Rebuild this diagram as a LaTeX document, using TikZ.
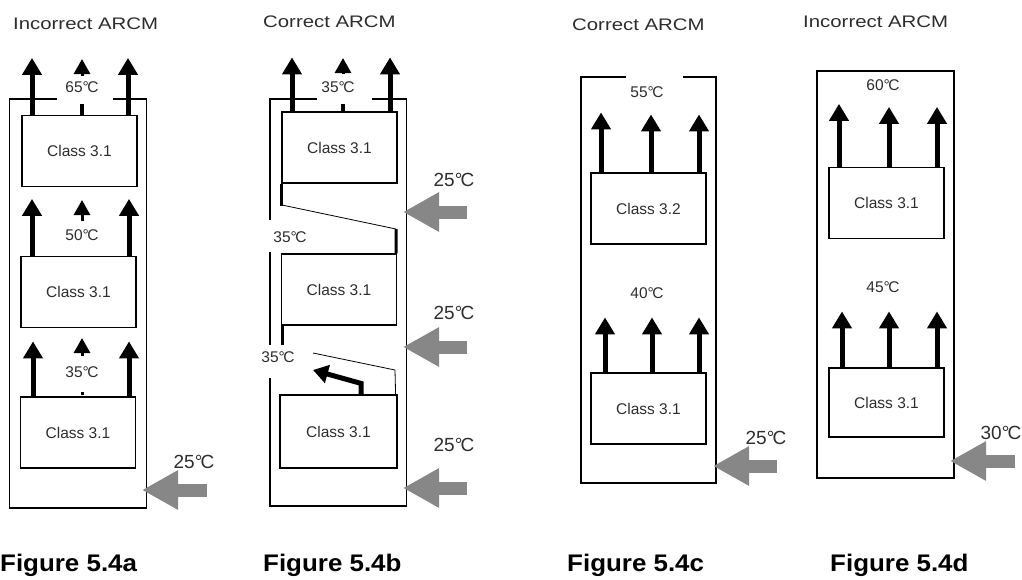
\documentclass[tikz,border=0pt]{standalone}
\usepackage{fontspec}
\setmainfont{Liberation Sans}
\newfontfamily\widefont[FakeStretch=1.22]{Liberation Sans}
\newfontfamily\capfont[FakeStretch=1.08]{Liberation Sans}
\usetikzlibrary{arrows.meta, positioning, calc}
\definecolor{inletgray}{RGB}{135,135,135}
\definecolor{txtgray}{RGB}{45,45,45}
\newcommand{\dgc}{°\kern-0.09em C}

\tikzset{
    wall/.style={line width=1.2pt},
    unitbox/.style={draw, line width=1.2pt, minimum width=115pt, minimum height=71pt,
        inner sep=0pt, text=txtgray, font=\fontsize{15.5}{15.5}\selectfont},
    flow/.style={line width=5pt, -{Triangle[length=17pt,width=19pt]}},
    smallhead/.style={line width=3pt, -{Triangle[length=15pt,width=16pt]}},
    inflow/.style={inletgray, line width=13pt, -{Triangle[length=36pt,width=37pt]}},
    temp/.style={text=txtgray, font=\fontsize{15.5}{15.5}\selectfont, inner sep=0pt},
    sidetemp/.style={text=txtgray, font=\fontsize{19}{19}\selectfont, inner sep=0pt},
    title/.style={anchor=west, inner sep=0pt, text=txtgray, font=\widefont\fontsize{16.7}{16.7}\selectfont},
    caption/.style={anchor=west, inner sep=0pt, font=\capfont\bfseries\fontsize{24}{24}\selectfont}
}

\begin{document}
\begin{tikzpicture}[x=1pt, y=-1pt]
    \useasboundingbox (0,0) rectangle (1022,579);

    % Figure 5.4a
    \node[title] (ta) at (13,24) {Incorrect ARCM};
    \draw[wall] (57,99) -- (9.5,99) -- (9.5,508) -- (146.5,508) -- (146.5,99) -- (113,99);
    \node[unitbox] (a1) at (79.5,151) {Class 3.1};
    \node[unitbox] (a2) at (78.5,292) {Class 3.1};
    \node[unitbox] (a3) at (78,432.5) {Class 3.1};
    \draw[flow] ([xshift=-47.5pt]a1.north) -- ++(0,-57);
    \draw[flow] ([xshift=48.5pt]a1.north) -- ++(0,-57);
    \draw[smallhead] (82,76) -- (82,59);
    \draw[line width=4pt] ([xshift=2.5pt]a1.north) -- ++(0,-11);
    \node[temp] (ta1) at (82,87) {65\dgc};
    \draw[flow] ([xshift=-46.5pt]a2.north) -- ++(0,-57);
    \draw[flow] ([xshift=50.5pt]a2.north) -- ++(0,-57);
    \draw[smallhead] (82,221) -- (82,200);
    \node[temp] (ta2) at (82,235) {50\dgc};
    \draw[flow] ([xshift=-45pt]a3.north) -- ++(0,-55);
    \draw[flow] ([xshift=51pt]a3.north) -- ++(0,-55);
    \draw[smallhead] (82,356) -- (82,338);
    \node[temp] (ta3) at (82,372) {35\dgc};
    \fill (80.5,391.5) rectangle (83.5,394.5);
    \node[sidetemp] (sa) at (194,462) {25\dgc};
    \coordinate (ia) at (142,490);
    \draw[inflow] (207,490) -- (ia);
    \node[caption] (ca) at (0,565) {Figure 5.4a};

    % Figure 5.4b
    \node[title] (tb) at (263,22) {Correct ARCM};
    \draw[wall] (317,99) -- (270,99) -- (270,220);
    \draw[wall] (270,252) -- (270,345);
    \draw[wall] (270,378) -- (270,506) -- (406.5,506) -- (406.5,99) -- (372,99);
    \node[unitbox] (b1) at (339.5,147.5) {Class 3.1};
    \node[unitbox] (b2) at (339,289.5) {Class 3.1};
    \node[unitbox, minimum width=117pt, minimum height=73pt] (b3) at (338.5,431.5) {Class 3.1};
    \draw[line width=3pt] ([xshift=0.5pt]b1.south west) -- ++(0,22);
    \draw[line width=0.8pt] (282,205) -- (396,229);
    \draw[line width=3pt] (396,229) -- ([xshift=-1pt]b2.north east);
    \draw[line width=3pt] ([xshift=2pt]b2.south west) -- ++(0,19);
    \draw[line width=0.8pt] (313,353) -- (395,370);
    \draw[line width=0.8pt] (395,370) -- ([xshift=-2pt]b3.north east);
    \draw[flow] ([xshift=-47.5pt]b1.north) -- ++(0,-54);
    \draw[flow] ([xshift=50.5pt]b1.north) -- ++(0,-54);
    \draw[smallhead] (343,74) -- (343,58);
    \draw[line width=4pt] ([xshift=3.5pt]b1.north) -- ++(0,-7);
    \node[temp] (tb1) at (338,87) {35\dgc};
    \node[temp] (tb2) at (290,237) {35\dgc};
    \node[temp] (tb3) at (278,357) {35\dgc};
    \draw[line width=5pt, -{Triangle[length=15pt,width=18pt]}]
        ([xshift=22.5pt]b3.north) -- ++(0,-11) -- (313,370);
    \node[sidetemp] (sb1) at (454,180) {25\dgc};
    \node[sidetemp] (sb2) at (454,313) {25\dgc};
    \node[sidetemp] (sb3) at (454,445) {25\dgc};
    \coordinate (ib1) at (403,212);
    \coordinate (ib2) at (403,347);
    \coordinate (ib3) at (403,488);
    \foreach \c in {ib1,ib2,ib3}
        \draw[inflow] ($(\c)+(64,0)$) -- (\c);
    \node[caption] (cb) at (263,565) {Figure 5.4b};

    % Figure 5.4c
    \node[title] (tc) at (572,25) {Correct ARCM};
    \draw[wall] (626,77) -- (581,77) -- (581,483) -- (716,483) -- (716,77) -- (683,77);
    \node[unitbox] (c1) at (648.5,208.5) {Class 3.2};
    \node[unitbox] (c2) at (648.5,408.5) {Class 3.1};
    \foreach \dx/\len in {-47.5/60, 2.5/58, 50.5/58}
        \draw[flow] ([xshift=\dx pt]c1.north) -- ++(0,-\len);
    \foreach \dx in {-43.5, 3.5, 50.5}
        \draw[flow] ([xshift=\dx pt]c2.north) -- ++(0,-55);
    \node[temp] (tc1) at (647,92) {55\dgc};
    \node[temp] (tc2) at (647,293) {40\dgc};
    \node[sidetemp] (sc) at (766,438) {25\dgc};
    \coordinate (ic) at (713,466);
    \draw[inflow] (777,466) -- (ic);
    \node[caption] (cc) at (567,565) {Figure 5.4c};

    % Figure 5.4d
    \node[title] (td) at (803,22) {Incorrect ARCM};
    \draw[wall] (817,71) rectangle (954,478);
    \node[unitbox] (d1) at (886.5,203) {Class 3.1};
    \node[unitbox, minimum height=69pt] (d2) at (886.5,402.5) {Class 3.1};
    \foreach \dx/\len in {-47.5/63, 2.5/60, 50.5/60}
        \draw[flow] ([xshift=\dx pt]d1.north) -- ++(0,-\len);
    \foreach \dx in {-44.5, 2.5, 50.5}
        \draw[flow] ([xshift=\dx pt]d2.north) -- ++(0,-56);
    \node[temp] (td1) at (883,85) {60\dgc};
    \node[temp] (td2) at (883,287) {45\dgc};
    \node[sidetemp] (sd) at (1001,433) {30\dgc};
    \coordinate (id) at (950,461);
    \draw[inflow] (1015,461) -- (id);
    \node[caption] (cd) at (830,565) {Figure 5.4d};
\end{tikzpicture}
\end{document}
